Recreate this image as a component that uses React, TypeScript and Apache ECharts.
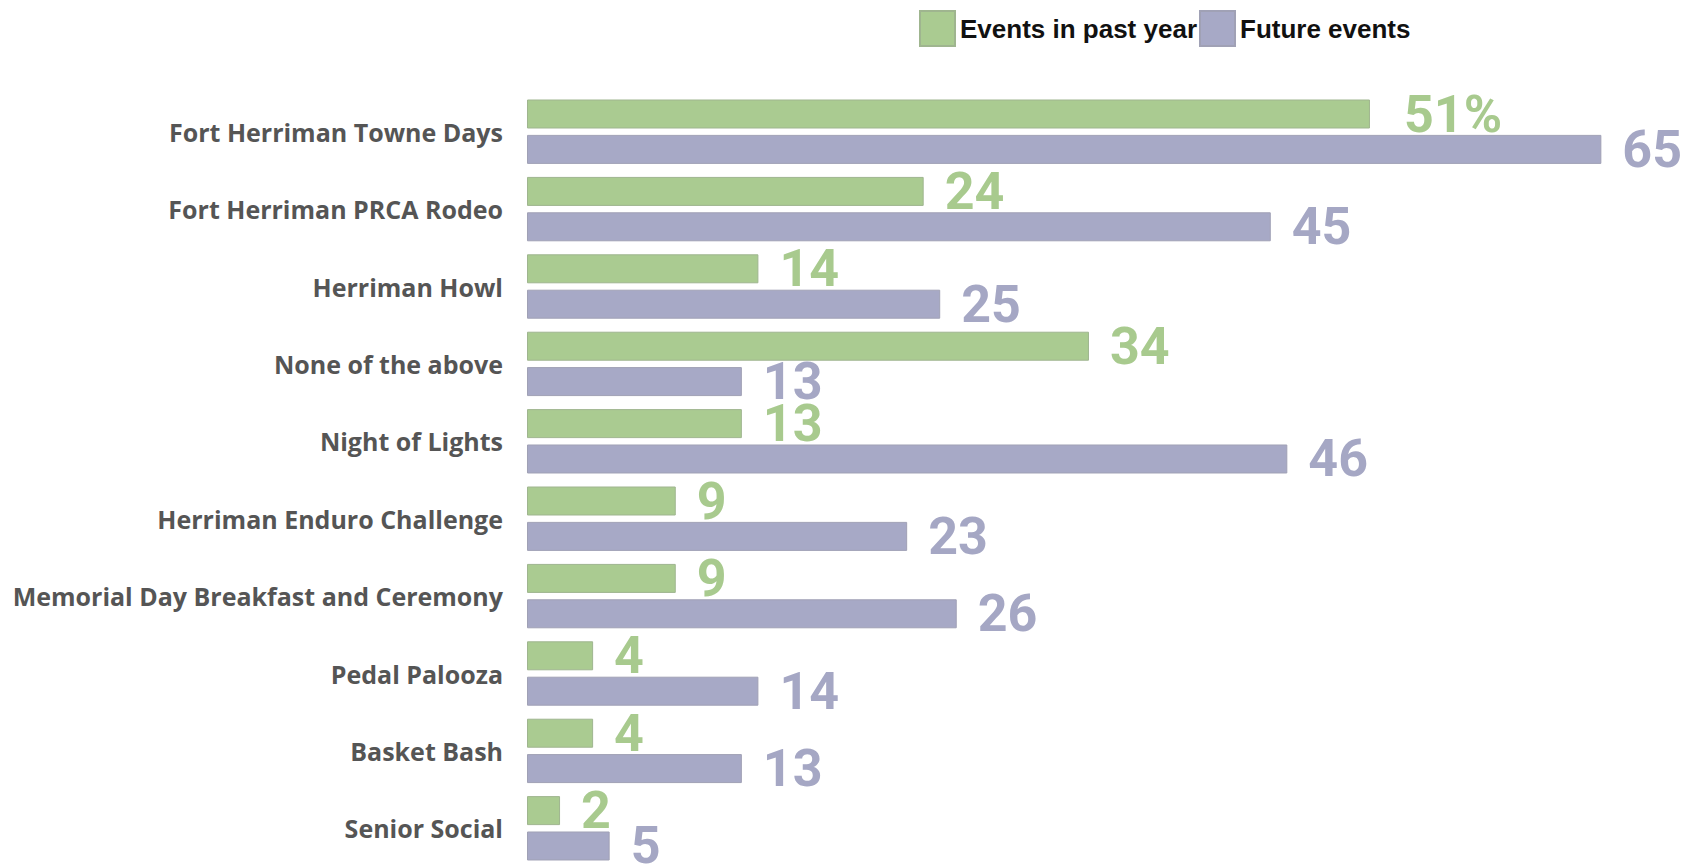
import React, { useEffect, useRef } from "react";
import * as echarts from "echarts";

const categories = [
  "Fort Herriman Towne Days",
  "Fort Herriman PRCA Rodeo",
  "Herriman Howl",
  "None of the above",
  "Night of Lights",
  "Herriman Enduro Challenge",
  "Memorial Day Breakfast and Ceremony",
  "Pedal Palooza",
  "Basket Bash",
  "Senior Social",
];
const pastYear = [51, 24, 14, 34, 13, 9, 9, 4, 4, 2];
const futureEvents = [65, 45, 25, 13, 46, 23, 26, 14, 13, 5];
const seriesNames = ["Events in past year", "Future events"];

const GREEN = "#aacb91";
const PURPLE = "#a7a9c6";
const VALUE_FONT = "Roboto, sans-serif";

export default function App() {
  const ref = useRef<HTMLDivElement>(null);
  useEffect(() => {
    if (!ref.current) return;
    const chart = echarts.init(ref.current, undefined, { renderer: "svg" });
    chart.setOption({
      animation: false,
      backgroundColor: "#ffffff",
      legend: {
        left: 914,
        top: 5,
        itemWidth: 35,
        itemHeight: 35,
        itemGap: 2,
        icon: "rect",
        textStyle: { fontFamily: "'Liberation Sans', Arial, sans-serif", fontWeight: "bold", fontSize: 26, color: "#111" },
        data: seriesNames,
      },
      grid: { left: 527, top: 93, width: 1157, height: 776, containLabel: false },
      xAxis: {
        type: "value",
        min: 0,
        max: 70,
        show: false,
        splitLine: { show: false },
      },
      yAxis: {
        type: "category",
        data: categories,
        inverse: true,
        axisLine: { show: false },
        axisTick: { show: false },
        splitLine: { show: false },
        axisLabel: {
          margin: 24,
          fontFamily: "'Open Sans', sans-serif",
          fontWeight: "bold",
          fontSize: 25,
          color: "#555555",
        },
      },
      series: [
        {
          name: seriesNames[0],
          type: "bar",
          data: pastYear.map((v, i) => (i === 0 ? { value: v, label: { distance: 34 } } : v)),
          barWidth: 29,
          barGap: "22%",
          itemStyle: { color: GREEN, borderColor: "#9fb58f", borderWidth: 1 },
          label: {
            show: true,
            position: "right",
            distance: 21,
            color: "#a8ca8e",
            fontFamily: VALUE_FONT,
            fontWeight: "bold",
            fontSize: 52,
            formatter: (p: any) => (p.dataIndex === 0 ? p.value + "%" : String(p.value)),
          },
        },
        {
          name: seriesNames[1],
          type: "bar",
          data: futureEvents,
          barWidth: 29,
          barGap: "22%",
          itemStyle: { color: PURPLE, borderColor: "#a0a1b5", borderWidth: 1 },
          label: {
            show: true,
            position: "right",
            distance: 21,
            color: "#a5a7c4",
            fontFamily: VALUE_FONT,
            fontWeight: "bold",
            fontSize: 52,
          },
        },
      ],
    });
    return () => chart.dispose();
  }, []);
  return (
    <div
      ref={ref}
      style={{ position: "fixed", left: 0, top: 0, width: 1691, height: 867 }}
    />
  );
}
